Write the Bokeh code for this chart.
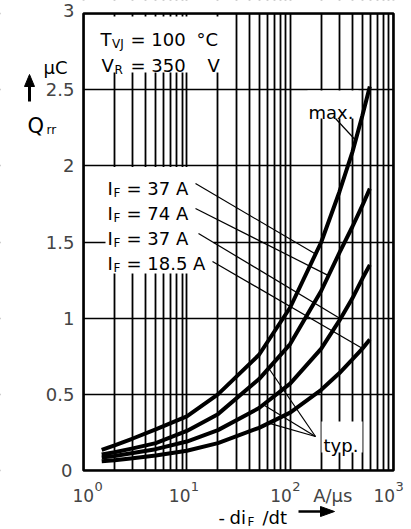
import numpy as np
from bokeh.plotting import figure
from bokeh.models import Range1d, FixedTicker, Label
from bokeh.embed import file_html
from bokeh.resources import INLINE

# ---------------- data ----------------
didt = [1.5, 2, 3, 5, 10, 20, 50, 100, 200, 300, 400, 500, 590]          # -diF/dt, A/us
qrr_max_37 = [0.135, 0.165, 0.21, 0.27, 0.355, 0.5, 0.76, 1.07, 1.5, 1.83, 2.09, 2.33, 2.52]
qrr_typ_74 = [0.105, 0.12, 0.145, 0.18, 0.26, 0.37, 0.6, 0.83, 1.18, 1.43, 1.6, 1.74, 1.85]
qrr_typ_37 = [0.085, 0.095, 0.115, 0.14, 0.19, 0.265, 0.41, 0.57, 0.8, 0.985, 1.13, 1.26, 1.35]
qrr_typ_18 = [0.06, 0.067, 0.08, 0.098, 0.13, 0.18, 0.28, 0.38, 0.53, 0.64, 0.73, 0.8, 0.86]

x_decades = [1, 10, 100, 1000]
x_minor = [m * d for d in (1, 10, 100) for m in range(2, 10)]
x_exponents = ["0", "1", "2", "3"]
y_ticks = [0, 0.5, 1, 1.5, 2, 2.5, 3]
y_tick_labels = ["0", "0.5", "1", "1.5", "2", "2.5", "3"]
legend_currents = ["37", "74", "37", "18.5"]

FONT = "DejaVu Sans"
W, H = 411, 529
# chart area on the page: x 83..393 (1..1000, log), y 470..13 (0..3)
XL, XR, YB, YT = 83, 393, 470, 13
DEC = (XR - XL) / 3.0
UNIT = (YB - YT) / 3.0


def X(px):
    return 10 ** ((px - XL) / DEC)


def Y(py):
    return (YB - py) / UNIT


# the frame spans the whole canvas, so that every text can be drawn in it
p = figure(width=W, height=H, x_axis_type="log",
           x_range=Range1d(X(0), X(W)), y_range=Range1d(Y(H), Y(0)),
           output_backend="svg", toolbar_location=None, min_border=0)
p.axis.visible = False
p.background_fill_color = "white"
p.border_fill_color = "white"
p.outline_line_color = None

p.xgrid.ticker = FixedTicker(ticks=x_decades, minor_ticks=x_minor)
p.xgrid.grid_line_color = "black"
p.xgrid.grid_line_width = 1.8
p.xgrid.minor_grid_line_color = "black"
p.xgrid.minor_grid_line_width = 1.8
p.ygrid.ticker = FixedTicker(ticks=y_ticks)
p.ygrid.grid_line_color = "black"
p.ygrid.grid_line_width = 1.3

xmin, xmax = X(0), X(W)
ymin, ymax = Y(H), Y(0)
x_lo, x_hi = x_decades[0], x_decades[-1]
y_lo, y_hi = y_ticks[0], y_ticks[-1]

# white margins (hide grid lines outside the chart area)
p.quad(left=[xmin, x_hi, xmin, xmin], right=[x_lo, xmax, xmax, xmax],
       bottom=[ymin, ymin, y_hi, ymin], top=[ymax, ymax, ymax, y_lo],
       fill_color="white", line_color=None)


def txt(px, py, s, size=18, align="left", baseline="alphabetic"):
    p.add_layout(Label(x=X(px), y=Y(py), text=s, text_font=FONT,
                       text_font_size=f"{size}px", text_align=align,
                       text_baseline=baseline, text_color="black"))


def q_at(xv, ys):
    return float(np.interp(np.log10(xv), np.log10(didt), ys))


# white boxes behind the in-chart texts (they interrupt the grid)
boxes = [(85, 226, 16, 72), (105, 213, 166.5, 273), (307, 358, 90, 118), (321, 362, 421, 452)]
p.quad(left=[X(b[0]) for b in boxes], right=[X(b[1]) for b in boxes],
       top=[Y(b[2]) for b in boxes], bottom=[Y(b[3]) for b in boxes],
       fill_color="white", line_color=None)

# chart border
p.quad(left=[x_lo], right=[x_hi], bottom=[y_lo], top=[y_hi],
       fill_color=None, line_color="black", line_width=2.6)

# leader lines
curves = [qrr_max_37, qrr_typ_74, qrr_typ_37, qrr_typ_18]
lead_start = [(195, 183), (195, 208), (198, 233), (212, 261)]
lead_end_x = [176, 235, 307, 502]
x0, y0, x1, y1 = [], [], [], []
for (sx, sy), ex, c in zip(lead_start, lead_end_x, curves):
    x0.append(X(sx)); y0.append(Y(sy)); x1.append(ex); y1.append(q_at(ex, c))
x0.append(X(335)); y0.append(Y(118)); x1.append(430); y1.append(q_at(430, qrr_max_37))
for ex, c in zip([62, 55, 62], [qrr_typ_74, qrr_typ_37, qrr_typ_18]):
    x0.append(X(315)); y0.append(Y(436)); x1.append(ex); y1.append(q_at(ex, c))
p.segment(x0=x0, y0=y0, x1=x1, y1=y1, line_color="black", line_width=1.2)

# curves
for c in curves:
    p.line(didt, c, line_color="black", line_width=4)

# condition text
txt(100, 39, "T")
txt(111.5, 43, "VJ", 12)
txt(130, 39, "= 100")
txt(196, 39, "°C")
txt(101, 65, "V")
txt(114, 69, "R", 12)
txt(130, 65, "= 350")
txt(207, 65, "V")

# legend labels
for i, cur in enumerate(legend_currents):
    base = 188 + 25 * i
    txt(107, base, "I")
    txt(113, base + 4, "F", 12)
    txt(126, base, f"= {cur} A")

txt(308, 112, "max.")
txt(323, 445, "typ.")

# y tick labels
for v, s in zip(y_ticks, y_tick_labels):
    xo = -11 if v == 0 else -9
    yo = 3 if v == 3 else 0
    p.add_layout(Label(x=x_lo, y=v, x_offset=xo, y_offset=yo, text=s, text_font=FONT,
                       text_font_size="18px", text_align="right", text_baseline="middle"))

# y axis title:  µC  (arrow)  Q_rr
txt(43, 67, "µC")
txt(27, 125, "Q", 21)
txt(46, 129, "rr", 12)
p.segment(x0=[X(29)], y0=[Y(101)], x1=[X(29)], y1=[Y(84)], line_color="black", line_width=3)
p.patch(x=[X(24), X(34), X(29)], y=[Y(86), Y(86), Y(74)], fill_color="black", line_color="black")

# x tick labels
for d, e, off in zip(x_decades, x_exponents, [-11, -18, -20, -20]):
    p.add_layout(Label(x=d, y=0, x_offset=off, y_offset=-25, text="10", text_font=FONT,
                       text_font_size="17px", text_baseline="alphabetic"))
    p.add_layout(Label(x=d, y=0, x_offset=off + 22, y_offset=-16, text=e, text_font=FONT,
                       text_font_size="13px", text_baseline="alphabetic"))
p.add_layout(Label(x=100, y=0, x_offset=23, y_offset=-25, text="A/µs", text_font=FONT,
                   text_font_size="18px", text_baseline="alphabetic"))

# x axis title:  -di_F /dt  (arrow)
txt(218, 517, "-")
txt(229, 517, "di")
txt(247, 521, "F", 12)
txt(262, 517, "/dt")
p.segment(x0=[X(298)], y0=[Y(511)], x1=[X(323)], y1=[Y(511)], line_color="black", line_width=2.5)
p.patch(x=[X(320), X(320), X(334)], y=[Y(506), Y(516), Y(511)], fill_color="black", line_color="black")

open("out.html", "w").write(file_html(p, INLINE))
